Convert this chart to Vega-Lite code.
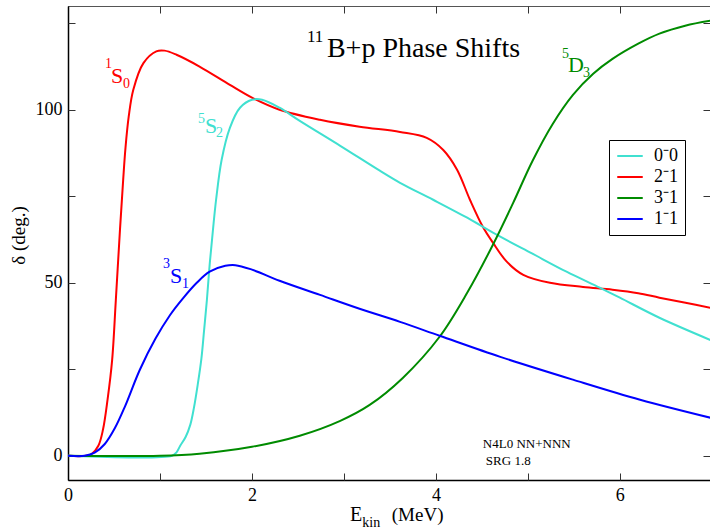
{
  "$schema": "https://vega.github.io/schema/vega-lite/v6.json",
  "autosize": {"type": "none"},
  "width": 642,
  "height": 474,
  "padding": {"left": 68, "top": 6, "right": 0, "bottom": 49},
  "background": "white",
  "config": {"view": {"stroke": "#555", "strokeWidth": 1}, "font": "Liberation Serif"},
  "datasets": {
    "curves": [
      {"E":0,"delta":0,"ch":"2⁻1"},{"E":0.2,"delta":0,"ch":"2⁻1"},{"E":0.26,"delta":0.6,"ch":"2⁻1"},{"E":0.33,"delta":2.9,"ch":"2⁻1"},{"E":0.38,"delta":7.5,"ch":"2⁻1"},{"E":0.43,"delta":16.2,"ch":"2⁻1"},{"E":0.48,"delta":27.7,"ch":"2⁻1"},{"E":0.52,"delta":45,"ch":"2⁻1"},{"E":0.565,"delta":65.3,"ch":"2⁻1"},{"E":0.6,"delta":79.8,"ch":"2⁻1"},{"E":0.625,"delta":89,"ch":"2⁻1"},{"E":0.66,"delta":98,"ch":"2⁻1"},{"E":0.71,"delta":105.8,"ch":"2⁻1"},{"E":0.82,"delta":113.5,"ch":"2⁻1"},{"E":0.96,"delta":116.9,"ch":"2⁻1"},{"E":1.05,"delta":117.1,"ch":"2⁻1"},{"E":1.18,"delta":115.9,"ch":"2⁻1"},{"E":1.43,"delta":112.5,"ch":"2⁻1"},{"E":1.76,"delta":107.2,"ch":"2⁻1"},{"E":2.0,"delta":103.5,"ch":"2⁻1"},{"E":2.3,"delta":100,"ch":"2⁻1"},{"E":2.74,"delta":97.1,"ch":"2⁻1"},{"E":3.17,"delta":95.1,"ch":"2⁻1"},{"E":3.61,"delta":93.6,"ch":"2⁻1"},{"E":3.9,"delta":91.9,"ch":"2⁻1"},{"E":4.08,"delta":88.4,"ch":"2⁻1"},{"E":4.23,"delta":82.7,"ch":"2⁻1"},{"E":4.37,"delta":74.0,"ch":"2⁻1"},{"E":4.51,"delta":66.2,"ch":"2⁻1"},{"E":4.62,"delta":61.6,"ch":"2⁻1"},{"E":4.77,"delta":56.1,"ch":"2⁻1"},{"E":4.95,"delta":52.3,"ch":"2⁻1"},{"E":5.24,"delta":50.0,"ch":"2⁻1"},{"E":5.6,"delta":48.8,"ch":"2⁻1"},{"E":5.92,"delta":48.0,"ch":"2⁻1"},{"E":6.2,"delta":47.0,"ch":"2⁻1"},{"E":6.43,"delta":45.7,"ch":"2⁻1"},{"E":6.7,"delta":44.3,"ch":"2⁻1"},{"E":7.0,"delta":42.7,"ch":"2⁻1"},
      {"E":0,"delta":0,"ch":"0⁻0"},{"E":1.13,"delta":0,"ch":"0⁻0"},{"E":1.18,"delta":1,"ch":"0⁻0"},{"E":1.22,"delta":2.9,"ch":"0⁻0"},{"E":1.28,"delta":5.5,"ch":"0⁻0"},{"E":1.33,"delta":9,"ch":"0⁻0"},{"E":1.37,"delta":14,"ch":"0⁻0"},{"E":1.41,"delta":20.5,"ch":"0⁻0"},{"E":1.45,"delta":28,"ch":"0⁻0"},{"E":1.48,"delta":36.4,"ch":"0⁻0"},{"E":1.51,"delta":45,"ch":"0⁻0"},{"E":1.54,"delta":55.2,"ch":"0⁻0"},{"E":1.575,"delta":65,"ch":"0⁻0"},{"E":1.61,"delta":74,"ch":"0⁻0"},{"E":1.67,"delta":85.5,"ch":"0⁻0"},{"E":1.76,"delta":94.8,"ch":"0⁻0"},{"E":1.87,"delta":100.6,"ch":"0⁻0"},{"E":2.0,"delta":102.9,"ch":"0⁻0"},{"E":2.11,"delta":102.9,"ch":"0⁻0"},{"E":2.3,"delta":100.6,"ch":"0⁻0"},{"E":2.52,"delta":96.8,"ch":"0⁻0"},{"E":2.96,"delta":89.6,"ch":"0⁻0"},{"E":3.39,"delta":82.4,"ch":"0⁻0"},{"E":3.61,"delta":78.9,"ch":"0⁻0"},{"E":3.97,"delta":74.0,"ch":"0⁻0"},{"E":4.34,"delta":68.8,"ch":"0⁻0"},{"E":4.62,"delta":64.5,"ch":"0⁻0"},{"E":5.05,"delta":58.4,"ch":"0⁻0"},{"E":5.42,"delta":53.2,"ch":"0⁻0"},{"E":5.78,"delta":48.6,"ch":"0⁻0"},{"E":6.0,"delta":45.7,"ch":"0⁻0"},{"E":6.43,"delta":39.9,"ch":"0⁻0"},{"E":7.0,"delta":33.3,"ch":"0⁻0"},
      {"E":0,"delta":0,"ch":"3⁻1"},{"E":1.0,"delta":0,"ch":"3⁻1"},{"E":1.43,"delta":0.6,"ch":"3⁻1"},{"E":2.0,"delta":2.6,"ch":"3⁻1"},{"E":2.52,"delta":5.8,"ch":"3⁻1"},{"E":2.96,"delta":10.1,"ch":"3⁻1"},{"E":3.28,"delta":14.7,"ch":"3⁻1"},{"E":3.64,"delta":22.5,"ch":"3⁻1"},{"E":4.04,"delta":34.4,"ch":"3⁻1"},{"E":4.34,"delta":47.1,"ch":"3⁻1"},{"E":4.62,"delta":61.0,"ch":"3⁻1"},{"E":4.84,"delta":73.1,"ch":"3⁻1"},{"E":5.05,"delta":85.2,"ch":"3⁻1"},{"E":5.27,"delta":95.9,"ch":"3⁻1"},{"E":5.49,"delta":104.3,"ch":"3⁻1"},{"E":5.71,"delta":110.4,"ch":"3⁻1"},{"E":5.92,"delta":114.7,"ch":"3⁻1"},{"E":6.2,"delta":119.1,"ch":"3⁻1"},{"E":6.43,"delta":122.0,"ch":"3⁻1"},{"E":6.71,"delta":124.3,"ch":"3⁻1"},{"E":7.0,"delta":125.8,"ch":"3⁻1"},
      {"E":0,"delta":0,"ch":"1⁻1"},{"E":0.18,"delta":0,"ch":"1⁻1"},{"E":0.29,"delta":0.9,"ch":"1⁻1"},{"E":0.4,"delta":3.4,"ch":"1⁻1"},{"E":0.51,"delta":8,"ch":"1⁻1"},{"E":0.62,"delta":14.3,"ch":"1⁻1"},{"E":0.78,"delta":24.8,"ch":"1⁻1"},{"E":0.95,"delta":33.8,"ch":"1⁻1"},{"E":1.11,"delta":40.7,"ch":"1⁻1"},{"E":1.25,"delta":45.5,"ch":"1⁻1"},{"E":1.4,"delta":50,"ch":"1⁻1"},{"E":1.54,"delta":53.2,"ch":"1⁻1"},{"E":1.71,"delta":54.9,"ch":"1⁻1"},{"E":1.82,"delta":55.1,"ch":"1⁻1"},{"E":2.0,"delta":53.8,"ch":"1⁻1"},{"E":2.3,"delta":50.6,"ch":"1⁻1"},{"E":2.74,"delta":46.5,"ch":"1⁻1"},{"E":3.17,"delta":42.5,"ch":"1⁻1"},{"E":3.61,"delta":38.7,"ch":"1⁻1"},{"E":4.04,"delta":34.7,"ch":"1⁻1"},{"E":4.7,"delta":28.6,"ch":"1⁻1"},{"E":5.49,"delta":22.0,"ch":"1⁻1"},{"E":6.22,"delta":16.2,"ch":"1⁻1"},{"E":7.0,"delta":10.9,"ch":"1⁻1"}
    ],
    "labels": [
      {"E":2.815,"delta":115.3,"t":"B+p Phase Shifts","size":28,"c":"black"},
      {"E":2.598,"delta":119.7,"t":"11","size":17,"c":"black"},
      {"E":0.402,"delta":112.1,"t":"1","size":14,"c":"#ff0000"},
      {"E":0.467,"delta":107.8,"t":"S","size":22,"c":"#ff0000"},
      {"E":0.598,"delta":106.4,"t":"0","size":14,"c":"#ff0000"},
      {"E":1.413,"delta":96.2,"t":"5","size":14,"c":"#40e0d0"},
      {"E":1.489,"delta":93.4,"t":"S","size":22,"c":"#40e0d0"},
      {"E":1.61,"delta":92.0,"t":"2","size":14,"c":"#40e0d0"},
      {"E":1.033,"delta":54.3,"t":"3","size":14,"c":"#0000ff"},
      {"E":1.109,"delta":50.0,"t":"S","size":22,"c":"#0000ff"},
      {"E":1.239,"delta":48.6,"t":"1","size":14,"c":"#0000ff"},
      {"E":5.37,"delta":115.0,"t":"5","size":14,"c":"#008b00"},
      {"E":5.435,"delta":111.0,"t":"D","size":22,"c":"#008b00"},
      {"E":5.598,"delta":109.5,"t":"3","size":14,"c":"#008b00"},
      {"E":4.51,"delta":2.3,"t":"N4L0 NN+NNN","size":13,"c":"black"},
      {"E":4.543,"delta":-2.6,"t":"SRG 1.8","size":13,"c":"black"},
      {"E":3.065,"delta":-18.9,"t":"E","size":20,"c":"black"},
      {"E":3.2,"delta":-20.5,"t":"kin","size":14,"c":"black"},
      {"E":3.52,"delta":-18.9,"t":"(MeV)","size":19,"c":"black"}
    ],
    "dummy": [{"E":0,"delta":0}]
  },
  "layer": [
    {
      "data": {"name": "curves"},
      "mark": {"type": "line", "strokeWidth": 2, "clip": true, "interpolate": "catmull-rom"},
      "encoding": {
        "x": {"field": "E", "type": "quantitative",
          "scale": {"domain": [0, 6.98], "nice": false, "zero": false},
          "axis": {"orient": "bottom", "title": null, "grid": false, "values": [0,2,4,6],
            "labelFont": "Liberation Serif", "labelFontSize": 18, "labelColor": "black",
            "domainColor": "black", "domainWidth": 1.5, "ticks": false,
            "labelPadding": 6, "labelFlush": false, "labelOverlap": false}},
        "y": {"field": "delta", "type": "quantitative",
          "scale": {"domain": [-7, 130], "nice": false, "zero": false},
          "axis": {"orient": "left", "grid": false, "values": [0,50,100],
            "labelFont": "Liberation Serif", "labelFontSize": 18, "labelColor": "black",
            "domainColor": "black", "domainWidth": 1.5, "ticks": false,
            "labelPadding": 6, "labelFlush": false, "labelOverlap": false,
            "title": "δ (deg.)", "titleFont": "Liberation Serif", "titleFontSize": 19, "titleFontWeight": "normal", "titleColor": "black",
            "titleX": -50, "titleY": 229, "titleAngle": -90, "titleAlign": "center", "titleBaseline": "middle"}},
        "color": {"field": "ch", "type": "nominal",
          "scale": {"domain": ["0⁻0", "2⁻1", "3⁻1", "1⁻1"], "range": ["#40e0d0", "#ff0000", "#008b00", "#0000ff"]},
          "legend": {"title": null, "orient": "none", "legendX": 541, "legendY": 134,
            "symbolType": "stroke", "symbolSize": 650, "symbolStrokeWidth": 2,
            "labelFont": "Liberation Serif", "labelFontSize": 18, "labelColor": "black",
            "clipHeight": 18, "rowPadding": 3,
            "strokeColor": "black", "fillColor": "white", "padding": 7, "labelOffset": 10, "cornerRadius": 0}}
      }
    },
    {
      "data": {"name": "dummy"},
      "mark": {"type": "point", "opacity": 0},
      "encoding": {
        "x": {"field": "E", "type": "quantitative",
          "scale": {"domain": [0, 6.98], "nice": false, "zero": false},
          "axis": {"orient": "bottom", "offset": -7, "title": null, "grid": false, "values": [0,1,2,3,4,5,6,7], "labels": false,
            "domain": false, "ticks": true, "tickColor": "#333", "tickWidth": 1, "tickSize": 7}},
        "y": {"field": "delta", "type": "quantitative",
          "scale": {"domain": [-7, 130], "nice": false, "zero": false},
          "axis": {"orient": "left", "offset": -7, "title": null, "grid": false, "values": [0,25,50,75,100,125], "labels": false,
            "domain": false, "ticks": true, "tickColor": "#333", "tickWidth": 1, "tickSize": 7}}
      }
    },
    {
      "data": {"name": "dummy"},
      "mark": {"type": "point", "opacity": 0},
      "encoding": {
        "x": {"field": "E", "type": "quantitative",
          "scale": {"domain": [0, 6.98], "nice": false, "zero": false},
          "axis": {"orient": "top", "offset": -7, "title": null, "grid": false, "values": [0,1,2,3,4,5,6,7], "labels": false,
            "domain": false, "ticks": true, "tickColor": "#333", "tickWidth": 1, "tickSize": 7}},
        "y": {"field": "delta", "type": "quantitative",
          "scale": {"domain": [-7, 130], "nice": false, "zero": false},
          "axis": {"orient": "right", "offset": -7, "title": null, "grid": false, "values": [0,25,50,75,100,125], "labels": false,
            "domain": false, "ticks": true, "tickColor": "#333", "tickWidth": 1, "tickSize": 7}}
      }
    },
    {
      "data": {"name": "labels"},
      "mark": {"type": "text", "align": "left", "baseline": "alphabetic", "font": "Liberation Serif"},
      "encoding": {
        "x": {"field": "E", "type": "quantitative", "axis": null},
        "y": {"field": "delta", "type": "quantitative", "axis": null},
        "text": {"field": "t"},
        "size": {"field": "size", "type": "quantitative", "scale": null},
        "color": {"field": "c", "type": "nominal", "scale": null}
      }
    }
  ],
  "resolve": {"axis": {"x": "independent", "y": "independent"}}
}
